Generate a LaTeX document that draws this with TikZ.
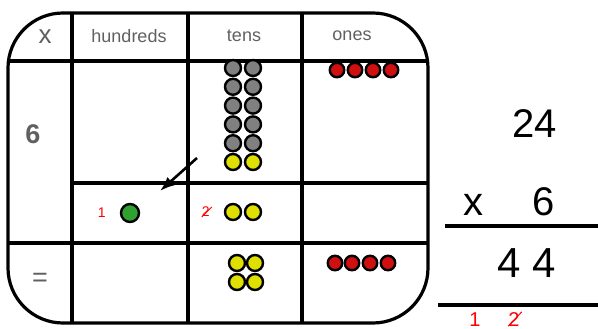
\documentclass[tikz,border=0pt]{standalone}
\usepackage{fontspec}
\setmainfont{Liberation Sans}
\usetikzlibrary{positioning, arrows.meta}
\definecolor{beadgrey}{HTML}{808080}
\definecolor{beadyellow}{HTML}{E0E000}
\definecolor{beadred}{HTML}{D01010}
\definecolor{beadgreen}{HTML}{30A030}
\definecolor{labelgrey}{HTML}{606060}
\tikzset{
    tableline/.style={line width=3.2pt},
    bead/.style={draw, circle, line width=2.4pt, minimum size=16pt, inner sep=0pt},
    greybead/.style={bead, fill=beadgrey},
    yellowbead/.style={bead, fill=beadyellow},
    redbead/.style={bead, fill=beadred, minimum size=14.5pt},
    greenbead/.style={bead, fill=beadgreen, minimum size=18pt},
    heading/.style={text=labelgrey, font=\fontsize{18}{18}\selectfont},
    sidelabel/.style={text=labelgrey, font=\fontsize{27}{27}\selectfont},
    sumdigit/.style={font=\fontsize{40}{40}\selectfont, anchor=base},
    carry/.style={text=red, font=\fontsize{14}{14}\selectfont, inner sep=0pt},
    bigcarry/.style={text=red, font=\fontsize{20}{20}\selectfont, anchor=base, inner sep=0pt}
}
\begin{document}
\begin{tikzpicture}[x=1pt, y=-1pt, node distance=14pt, >=Latex]
  \useasboundingbox (0,0) rectangle (598,329);
  % place value table
  \foreach \x in {72, 188, 302} \draw[tableline] (\x,13) -- (\x,323);
  \draw[tableline] (8,61) -- (428,61);
  \draw[tableline] (72,183) -- (428,183);
  \draw[tableline] (8,243) -- (428,243);
  \draw[tableline, rounded corners=55pt] (8,13) rectangle (428,323);
  % headings
  \node(times)[heading, font=\fontsize{26}{26}\selectfont] at (45,37) {x};
  \node(hundreds)[heading] at (129,36) {hundreds};
  \node(tens)[heading] at (244,36) {tens};
  \node(ones)[heading] at (352,36) {ones};
  \node(six)[sidelabel, font=\bfseries\fontsize{27}{27}\selectfont] at (33,134) {6};
  \node(equals)[sidelabel] at (40,280) {=};
  % 6 x 2 tens
  \foreach \r in {0,...,4} {
    \node(g\r a)[greybead] at (233,68+18.8*\r) {};
    \node(g\r b)[greybead] at (253,68+18.8*\r) {};
  }
  \node(ya)[yellowbead] at (233,162) {};
  \node(yb)[yellowbead] at (253,162) {};
  % 6 x 4 ones
  \foreach \i/\x in {1/337, 2/355, 3/373, 4/391} \node(r\i)[redbead] at (\x,70) {};
  % regrouped row
  \node(green)[greenbead] at (130,213) {};
  \node(carryone)[carry, left=of green] {1};
  \node(ma)[yellowbead] at (233,212) {};
  \node(mb)[yellowbead] at (253,212) {};
  \node(carrytwo)[carry, left=of ma] {2};
  \draw[red, line width=0.8pt] (carrytwo.south west) -- ([xshift=2pt]carrytwo.north east);
  \coordinate (carryfrom) at (197,158);
  \coordinate (carryto) at (160,191);
  \draw[->, line width=2.6pt] (carryfrom) -- (carryto);
  % answer row
  \foreach \i/\x/\y in {1/237/263, 2/255/263, 3/237/282, 4/255/282} \node(a\i)[yellowbead] at (\x,\y) {};
  \foreach \i/\x in {1/335, 2/352, 3/370, 4/388} \node(s\i)[redbead] at (\x,263) {};
  % written sum
  \node(top)[sumdigit] at (535,138) {24};
  \node(by)[sumdigit] at (473,215) {x};
  \node(factor)[sumdigit] at (544,215) {6};
  \draw[line width=3.5pt] (445,226) -- (598,226);
  \node(result)[sumdigit, font=\fontsize{42}{42}\selectfont] at (527,277) {4 4};
  \draw[line width=3.5pt] (438,305) -- (598,305);
  \node(lowone)[bigcarry] at (475,326) {1};
  \node(lowtwo)[bigcarry] at (514,326) {2};
  \draw[red, line width=1pt] (lowtwo.south west) -- ([xshift=2pt]lowtwo.north east);
\end{tikzpicture}
\end{document}
